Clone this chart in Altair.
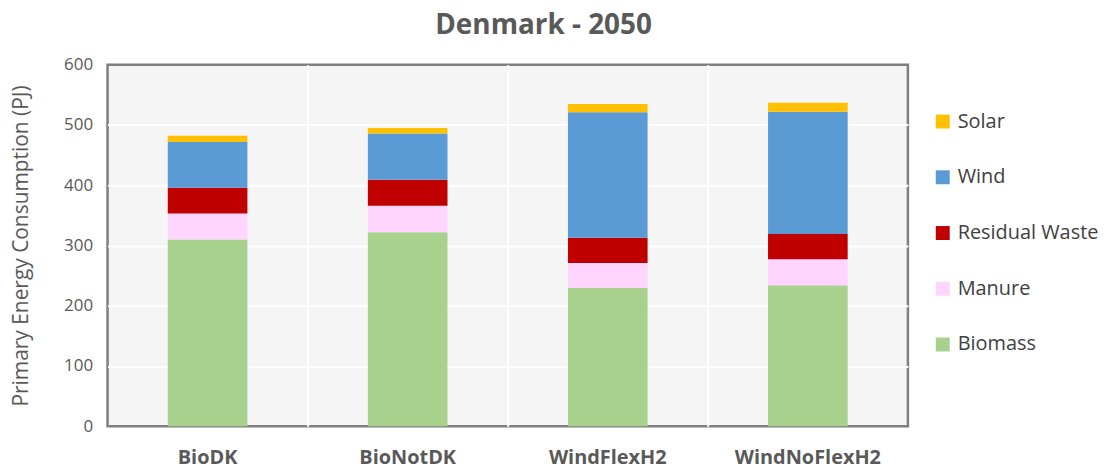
import altair as alt
import pandas as pd

categories = ["BioDK", "BioNotDK", "WindFlexH2", "WindNoFlexH2"]
sources = ["Solar", "Wind", "Residual Waste", "Manure", "Biomass"]
colors = ["#FFC000", "#5B9BD5", "#C00000", "#FFD5FF", "#A9D18E"]

biomass = [310, 322, 230, 234]
manure = [43, 44, 41, 43]
residual = [43, 43, 42, 42]
wind = [76, 77, 208, 203]
solar = [10, 9, 14, 15]

series = {
    "Biomass": biomass,
    "Manure": manure,
    "Residual Waste": residual,
    "Wind": wind,
    "Solar": solar,
}
stack_order = {"Biomass": 0, "Manure": 1, "Residual Waste": 2, "Wind": 3, "Solar": 4}

rows = []
for src, vals in series.items():
    for c, v in zip(categories, vals):
        rows.append({"Scenario": c, "Source": src, "Value": v, "ord": stack_order[src]})
df = pd.DataFrame(rows)

FONT = "Open Sans"

chart = (
    alt.Chart(df)
    .mark_bar(width=80)
    .encode(
        x=alt.X(
            "Scenario:N",
            sort=categories,
            scale=alt.Scale(paddingInner=0, paddingOuter=0),
            axis=alt.Axis(
                title=None,
                labelAngle=0,
                labelFontSize=20,
                labelFontWeight="bold",
                labelColor="#595959",
                labelFont=FONT,
                labelPadding=22,
                bandPosition=0,
                domain=False,
                ticks=False,
                grid=True,
                gridColor="white",
                gridWidth=2,
                gridOpacity={"condition": {"test": "datum.value === 'BioDK'", "value": 0}, "value": 1},
            ),
        ),
        y=alt.Y(
            "Value:Q",
            stack="zero",
            scale=alt.Scale(domain=[0, 600], nice=False),
            axis=alt.Axis(
                title="Primary Energy Consumption (PJ)",
                titleFontSize=21,
                titleFontWeight="normal",
                titleColor="#595959",
                titleFont=FONT,
                titlePadding=32,
                values=[0, 100, 200, 300, 400, 500, 600],
                labelFontSize=17,
                labelColor="#595959",
                labelFont=FONT,
                labelPadding=15,
                domain=False,
                ticks=False,
                grid=True,
                gridColor="white",
                gridWidth=2,
                gridOpacity={"condition": {"test": "datum.value === 0 || datum.value === 600", "value": 0}, "value": 1},
            ),
        ),
        color=alt.Color(
            "Source:N",
            scale=alt.Scale(domain=sources, range=colors),
            legend=alt.Legend(
                title=None,
                orient="none",
                legendX=829,
                legendY=47,
                symbolType="square",
                symbolSize=196,
                symbolStrokeWidth=0,
                labelFontSize=20,
                labelColor="#404040",
                labelFont=FONT,
                labelOffset=5,
                labelLimit=300,
                rowPadding=36,
            ),
        ),
        order=alt.Order("ord:Q", sort="ascending"),
    )
    .properties(
        width=804,
        height=363,
        title=alt.TitleParams(
            "Denmark - 2050",
            fontSize=28,
            fontWeight="bold",
            color="#595959",
            font=FONT,
            anchor="middle",
            dx=36,
            offset=16,
        ),
        padding={"left": 100, "top": 56, "right": 200, "bottom": 44},
        autosize=alt.AutoSizeParams(type="none"),
    )
    .configure_view(fill="#F5F5F5", stroke="#7F7F7F", strokeWidth=2.5)
)

chart.save("out.html", embed_options={"renderer": "svg", "actions": False})
